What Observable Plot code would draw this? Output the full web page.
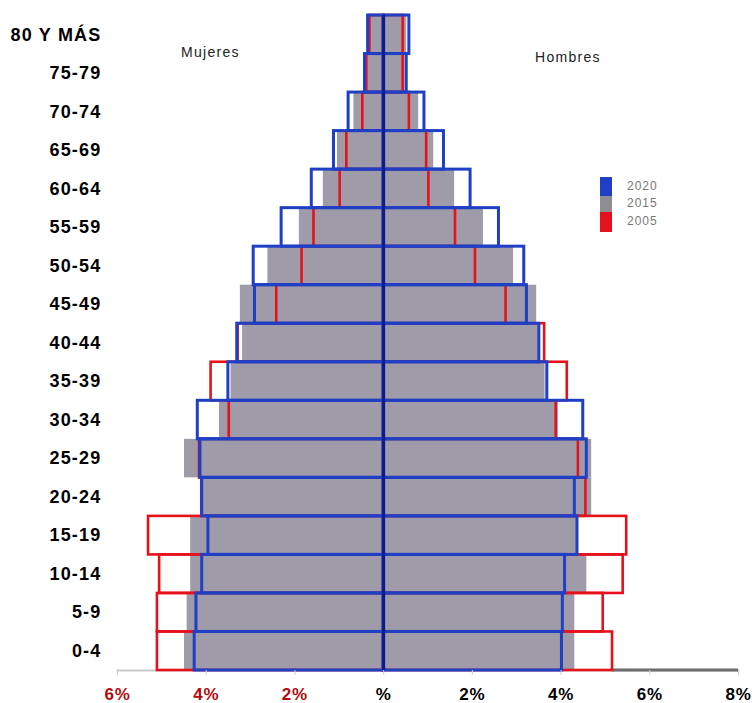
<!DOCTYPE html>
<html>
<head>
<meta charset="utf-8">
<script src="https://cdn.jsdelivr.net/npm/d3@7"></script>
<script src="https://cdn.jsdelivr.net/npm/@observablehq/plot@0.6"></script>
<style>
  body { margin: 0; background: #fff; font-family: "Liberation Sans", Arial, sans-serif; }
  #wrap { position: relative; width: 752px; height: 703px; }
  .side { position: absolute; font-size: 14px; letter-spacing: 1.3px; color: #222; }
  .leg { position: absolute; left: 600px; width: 12px; }
  .legt { position: absolute; left: 627px; font-size: 12px; color: #777; letter-spacing: 1px; }
</style>
</head>
<body>
<div id="wrap"></div>
<script>
// Age groups, top to bottom
const grupos = ["80 Y MÁS","75-79","70-74","65-69","60-64","55-59","50-54","45-49","40-44","35-39","30-34","25-29","20-24","15-19","10-14","5-9","0-4"];
// Percent of population
const mujeres2020 = [0.35,0.42,0.79,1.12,1.62,2.30,2.93,2.90,3.30,3.50,4.19,4.13,4.09,3.95,4.09,4.22,4.26];
const hombres2020 = [0.58,0.52,0.92,1.36,1.96,2.60,3.17,3.23,3.51,3.69,4.50,4.58,4.31,4.37,4.09,4.04,4.02];
const mujeres2015 = [0.33,0.40,0.67,1.04,1.36,1.90,2.61,3.23,3.18,3.44,3.70,4.49,4.10,4.35,4.35,4.43,4.49];
const hombres2015 = [0.52,0.48,0.79,1.13,1.60,2.25,2.93,3.45,3.49,3.64,3.94,4.69,4.69,4.39,4.58,4.31,4.31];
const mujeres2005 = [0.31,0.38,0.47,0.83,0.98,1.57,1.84,2.41,3.28,3.89,3.48,4.15,4.10,5.30,5.05,5.10,5.10];
const hombres2005 = [0.44,0.44,0.58,0.97,1.02,1.62,2.07,2.76,3.63,4.14,3.89,4.39,4.56,5.48,5.40,4.95,5.16];
// Axis ticks (negative side = Mujeres)
const ticksMujeres = [-6,-4,-2];
const ticksHombres = [0,2,4,6,8];
const anios = ["2020","2015","2005"];

function tabla(muj, hom) {
  const rows = [];
  grupos.forEach((g, i) => {
    rows.push({grupo: g, x1: -muj[i], x2: 0});
    rows.push({grupo: g, x1: 0, x2: hom[i]});
  });
  return rows;
}
const t2020 = tabla(mujeres2020, hombres2020);
const t2015 = tabla(mujeres2015, hombres2015);
const t2005 = tabla(mujeres2005, hombres2005);

const BLUE = "#1f3fc4", RED = "#e5121c", GRAY = "#a09ba9", NAVY = "#0d1a88";
const fmt = d => d === 0 ? "%" : Math.abs(d) + "%";

const chart = Plot.plot({
  width: 752,
  height: 703,
  marginLeft: 117,
  marginRight: 14,
  marginTop: 15,
  marginBottom: 33,
  style: {fontFamily: "Liberation Sans, Arial, sans-serif", background: "#fff"},
  x: {domain: [-6, 8]},
  y: {domain: grupos, padding: 0, round: false},
  marks: [
    Plot.frame({anchor: "bottom", stroke: "#c9c9c9", strokeWidth: 2}),
    Plot.barX([{a: hombres2005[hombres2005.length - 1], b: 8, g: grupos[grupos.length - 1]}],
      {x1: "a", x2: "b", y: "g", fill: "#6d6d6d", insetTop: 37, insetBottom: -1.5}),
    Plot.barX(t2015, {x1: "x1", x2: "x2", y: "grupo", fill: GRAY}),
    Plot.barX(t2005, {x1: "x1", x2: "x2", y: "grupo", fill: "none", stroke: RED, strokeWidth: 2.6}),
    Plot.barX(t2020, {x1: "x1", x2: "x2", y: "grupo", fill: "none", stroke: BLUE, strokeWidth: 3}),
    Plot.ruleX([0], {stroke: NAVY, strokeWidth: 3}),
    Plot.axisY({tickSize: 0, tickPadding: 16, fontSize: 18, fontWeight: "bold", fill: "#000", label: null}),
    Plot.axisX({ticks: ticksMujeres, tickFormat: fmt, tickSize: 5, tickPadding: 12, stroke: "#cfcfcf",
      fontSize: 17, fontWeight: "bold", fill: "#b30b0b", label: null}),
    Plot.axisX({ticks: ticksHombres, tickFormat: fmt, tickSize: 5, tickPadding: 12, stroke: "#cfcfcf",
      fontSize: 17, fontWeight: "bold", fill: "#000", label: null})
  ]
});
d3.select(chart).selectAll("g[aria-label='y-axis tick label'] text")
  .style("letter-spacing", "1.2px");
d3.select(chart).selectAll("g[aria-label='x-axis tick label'] text")
  .style("letter-spacing", "0.8px");

const wrap = document.getElementById("wrap");
wrap.appendChild(chart);

// Side labels
const m = document.createElement("div");
m.className = "side"; m.textContent = "Mujeres";
m.style.left = "181px"; m.style.top = "44px";
wrap.appendChild(m);
const h = document.createElement("div");
h.className = "side"; h.textContent = "Hombres";
h.style.left = "535px"; h.style.top = "49px";
wrap.appendChild(h);

// Legend
const legColors = [BLUE, "#8f8f93", RED];
const legTops = [177, 196, 212];
const legH = [19, 16, 20];
anios.forEach((a, i) => {
  const s = document.createElement("div");
  s.className = "leg";
  s.style.top = legTops[i] + "px";
  s.style.height = legH[i] + "px";
  s.style.background = legColors[i];
  wrap.appendChild(s);
  const t = document.createElement("div");
  t.className = "legt";
  t.textContent = a;
  t.style.top = (legTops[i] + legH[i] / 2 - 8) + "px";
  wrap.appendChild(t);
});
</script>
</body>
</html>
